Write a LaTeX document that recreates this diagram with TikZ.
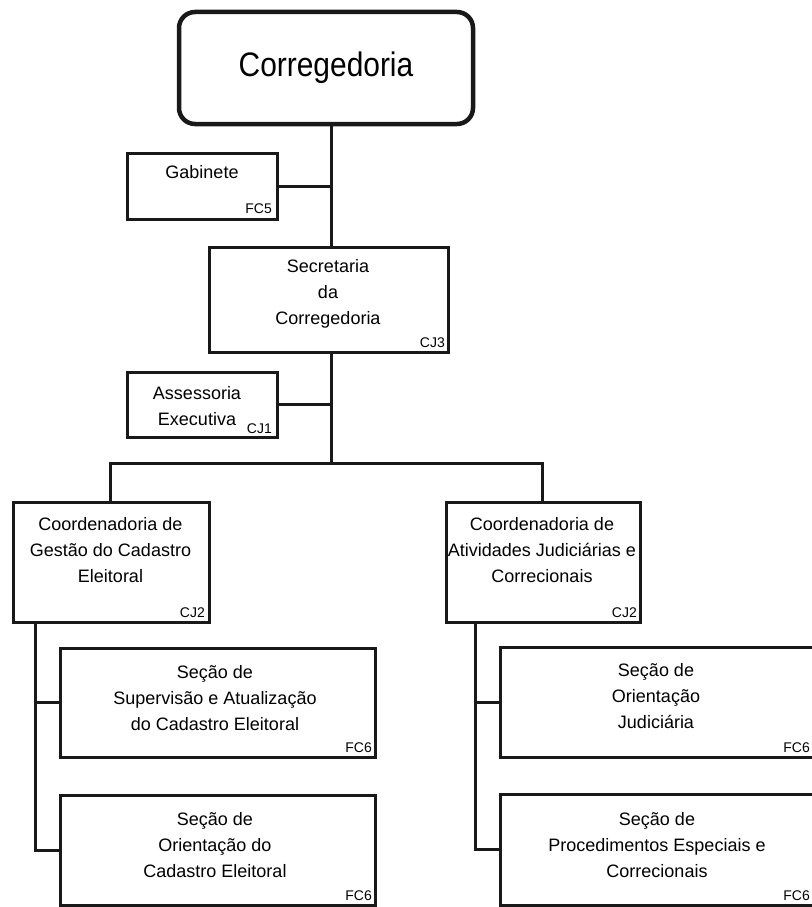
\documentclass[tikz,border=0pt]{standalone}
\usepackage{fontspec}
\setmainfont{Liberation Sans}
\newfontfamily\narrowsans[FakeStretch=0.88]{Liberation Sans}
\begin{document}
\begin{tikzpicture}[x=1pt,y=-1pt,
  box/.style={draw=black!90,line width=3pt,rectangle,inner sep=0pt,fill=white},
  txt/.style={font=\fontsize{18}{26}\selectfont,align=center,inner sep=0pt},
  tag/.style={font=\fontsize{14}{14}\selectfont,inner sep=0pt,anchor=base east},
  link/.style={draw=black!90,line width=3pt}]
\useasboundingbox (0,0) rectangle (811,907);
% spine coordinates
\coordinate (spine) at (331,0);
\coordinate (lspine) at (35,0);
\coordinate (rspine) at (475,0);
\coordinate (barl) at (110,463);
\coordinate (barr) at (542,463);
% boxes
\node[box,rounded corners=16pt,line width=4.5pt,minimum width=294pt,minimum height=112pt,
      font=\narrowsans\fontsize{34}{34}\selectfont] (corr) at (326,68) {Corregedoria};
\node[box,minimum width=150pt,minimum height=66pt] (gab) at (202,186) {};
\node[txt] (gabt) at (202,172) {Gabinete};
\node[tag] (gabl) at (272,213) {FC5};
\node[box,minimum width=239pt,minimum height=105pt] (sec) at (328.5,299.5) {};
\node[txt] (sect) at (328,294) {Secretaria\\da\\Corregedoria};
\node[tag] (secl) at (445,347) {CJ3};
\node[box,minimum width=150pt,minimum height=65pt] (ass) at (202,404.5) {};
\node[txt] (asst) at (197,406) {Assessoria\\Executiva};
\node[tag] (assl) at (272,433) {CJ1};
\node[box,minimum width=196pt,minimum height=120pt] (cgl) at (111,562) {};
\node[txt] (cglt) at (110.5,550) {Coordenadoria de\\Gestão do Cadastro\\Eleitoral};
\node[tag] (cgll) at (205,617) {CJ2};
\node[box,minimum width=194pt,minimum height=120pt] (cgr) at (543,562) {};
\node[txt] (cgrt) at (542,550) {Coordenadoria de\\Atividades Judiciárias e\\Correcionais};
\node[tag] (cgrl) at (637,617) {CJ2};
\node[box,minimum width=315pt,minimum height=109pt] (s1) at (217.5,702.5) {};
\node[txt] (s1t) at (215,698) {Seção de\\Supervisão e Atualização\\do Cadastro Eleitoral};
\node[tag] (s1l) at (372,752) {FC6};
\node[box,minimum width=315pt,minimum height=110pt] (s2) at (217.5,850) {};
\node[txt] (s2t) at (215,845) {Seção de\\Orientação do\\Cadastro Eleitoral};
\node[tag] (s2l) at (372,900) {FC6};
\node[box,minimum width=316pt,minimum height=110pt] (s3) at (658,702) {};
\node[txt] (s3t) at (656,696) {Seção de\\Orientação\\Judiciária};
\node[tag] (s3l) at (810,752) {FC6};
\node[box,minimum width=316pt,minimum height=111pt] (s4) at (658,849.5) {};
\node[txt] (s4t) at (657,845) {Seção de\\Procedimentos Especiais e\\Correcionais};
\node[tag] (s4l) at (810,900) {FC6};
% connectors
\draw[link] (spine |- corr.south) -- (spine |- sec.north);
\draw[link] (gab.east) -- (gab.east -| spine);
\draw[link] (spine |- sec.south) -- (spine |- barl);
\draw[link] (ass.east) -- (ass.east -| spine);
\draw[link] (barl |- cgl.north) -- (barl) -- (barr) -- (barr |- cgr.north);
\draw[link] (lspine |- cgl.south) -- (lspine |- s2.west) -- (s2.west);
\draw[link] (s1.west) -- (s1.west -| lspine);
\draw[link] (rspine |- cgr.south) -- (rspine |- s4.west) -- (s4.west);
\draw[link] (s3.west) -- (s3.west -| rspine);
\end{tikzpicture}
\end{document}
